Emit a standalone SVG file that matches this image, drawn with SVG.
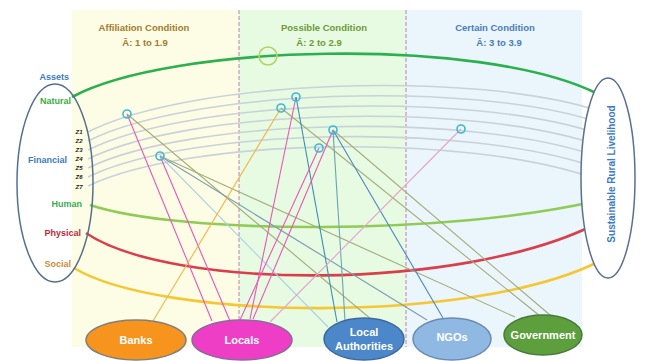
<svg xmlns="http://www.w3.org/2000/svg" width="646" height="361" viewBox="0 0 646 361">
<style>
text{font-family:"Liberation Sans",Arial,sans-serif;font-weight:bold}
.hdr{font-size:9.5px;text-anchor:middle}
.lbl{font-size:9px;text-anchor:end}
.z{font-size:6px;font-style:italic;fill:#222;text-anchor:middle}
.zarc{fill:none;stroke:#c9d2d9;stroke-width:1.6}
.div{stroke:#c46ac4;stroke-width:0.9;stroke-dasharray:4 2}
.ln{fill:none;stroke-width:1.1}
.pk{stroke:#e957b8}
.ol{stroke:#a3ad78}
.pt{fill:none;stroke:#3cb9d9;stroke-width:1.6}
.nt{fill:#fff;font-size:11px;text-anchor:middle}
</style>
<rect width="646" height="361" fill="#fff"/>
<g id="panels">
<rect x="72" y="10" width="167" height="337" fill="#fdfde5"/>
<rect x="239" y="10" width="167" height="337" fill="#e7fae2"/>
<rect x="406" y="10" width="176" height="337" fill="#ebf5fc"/>
<line class="div" x1="239" y1="10" x2="239" y2="347"/>
<line class="div" x1="406" y1="10" x2="406" y2="347"/>
</g>
<g id="headers">
<text class="hdr" x="144" y="31" fill="#a37c2e">Affiliation Condition</text>
<text class="hdr" x="145" y="46" fill="#a37c2e">Ā: 1 to 1.9</text>
<text class="hdr" x="324" y="31" fill="#6e9a3a">Possible Condition</text>
<text class="hdr" x="319" y="46" fill="#6e9a3a">Ā: 2 to 2.9</text>
<text class="hdr" x="495" y="31" fill="#4a7cc0">Certain Condition</text>
<text class="hdr" x="499" y="46" fill="#4a7cc0">Ā: 3 to 3.9</text>
</g>
<g id="arcs">
<path class="zarc" d="M88,132 C190,80 470,70 596,110"/>
<path class="zarc" d="M88,141 C190,89.5 470,80.5 596,121.5"/>
<path class="zarc" d="M88,150 C190,99 470,91 596,133"/>
<path class="zarc" d="M88,159 C190,108.5 470,101.5 596,144.5"/>
<path class="zarc" d="M88,168 C190,118 470,112 596,156"/>
<path class="zarc" d="M88,177 C190,127.5 470,122.5 596,167.5"/>
<path class="zarc" d="M88,186 C190,137 470,133 596,179"/>
<path d="M72,97 C170,44 480,36 596,93" fill="none" stroke="#2bb04e" stroke-width="2.6"/>
<circle cx="268" cy="56" r="9" fill="none" stroke="#b3d264" stroke-width="1.5"/>
<path d="M90,205 C180,235 450,235 596,201" fill="none" stroke="#8fcb55" stroke-width="2.6"/>
<path d="M86,233 C170,290 460,292 596,224" fill="none" stroke="#d93f4b" stroke-width="2.6"/>
<path d="M74,268 C160,320 470,325 598,262" fill="none" stroke="#f4c733" stroke-width="2.6"/>
</g>
<g id="assets">
<ellipse cx="55" cy="183" rx="38" ry="99" fill="none" stroke="#56708c" stroke-width="1.5"/>
<text class="lbl" x="69" y="80" fill="#3b7cc2">Assets</text>
<text class="lbl" x="71" y="104" fill="#3aab3f">Natural</text>
<text class="lbl" x="67" y="163" fill="#3b7cc2">Financial</text>
<text class="lbl" x="82" y="207" fill="#3aab55">Human</text>
<text class="lbl" x="81" y="236" fill="#c4283d">Physical</text>
<text class="lbl" x="71" y="267" fill="#d08a40">Social</text>
<text class="z" x="79" y="134">Z1</text>
<text class="z" x="79" y="143">Z2</text>
<text class="z" x="79" y="152">Z3</text>
<text class="z" x="79" y="161">Z4</text>
<text class="z" x="79" y="170">Z5</text>
<text class="z" x="79" y="179">Z6</text>
<text class="z" x="79" y="189">Z7</text>
</g>
<g id="srl">
<ellipse cx="608" cy="178" rx="27" ry="100" fill="#fff" stroke="#5a7090" stroke-width="1.5"/>
<text x="612" y="174" transform="rotate(-90 612 174)" font-size="10" fill="#3b7cc2" text-anchor="middle" dominant-baseline="middle">Sustainable Rural Livelihood</text>
</g>
<g id="connectors">
<line class="ln pk" x1="127" y1="114" x2="212" y2="321"/>
<line class="ln ol" x1="127" y1="114" x2="372" y2="320"/>
<line class="ln pk" x1="160" y1="156" x2="230" y2="321"/>
<line class="ln" stroke="#acd0e2" x1="160" y1="156" x2="328" y2="327"/>
<line class="ln" stroke="#7c9cb2" x1="160" y1="156" x2="427" y2="320"/>
<line class="ln ol" x1="160" y1="156" x2="515" y2="317"/>
<line class="ln" stroke="#f2b548" x1="281" y1="108" x2="153" y2="321"/>
<line class="ln ol" x1="281" y1="108" x2="540" y2="316"/>
<line class="ln pk" x1="296" y1="97" x2="250" y2="319"/>
<line class="ln" stroke="#3a8fb2" x1="296" y1="97" x2="337" y2="322"/>
<line class="ln pk" x1="333" y1="130" x2="253" y2="319"/>
<line class="ln" stroke="#6ea4b4" x1="333" y1="130" x2="345" y2="321"/>
<line class="ln" stroke="#4a88c0" x1="333" y1="130" x2="443" y2="318"/>
<line class="ln ol" x1="333" y1="130" x2="550" y2="315"/>
<line class="ln pk" x1="319" y1="148" x2="240" y2="320"/>
<line class="ln" stroke="#e8a3cc" x1="461" y1="129" x2="270" y2="322"/>
</g>
<g id="points">
<circle class="pt" cx="127" cy="114" r="4"/>
<circle class="pt" cx="160" cy="156" r="4"/>
<circle class="pt" cx="281" cy="108" r="4"/>
<circle class="pt" cx="296" cy="97" r="4"/>
<circle class="pt" cx="333" cy="130" r="4"/>
<circle class="pt" cx="319" cy="148" r="4"/>
<circle class="pt" cx="461" cy="129" r="4"/>
</g>
<g id="banks">
<ellipse cx="136" cy="340" rx="50" ry="20" fill="#f7941e" stroke="#7f7f7f" stroke-width="1.5"/>
<text class="nt" x="136" y="344">Banks</text>
</g>
<g id="locals">
<ellipse cx="242" cy="340" rx="50" ry="20" fill="#ef3ec6" stroke="#8a6a9a" stroke-width="1.5"/>
<text class="nt" x="242" y="344">Locals</text>
</g>
<g id="local-authorities">
<ellipse cx="364" cy="339" rx="40" ry="21" fill="#4b87c9" stroke="#3c6a9e" stroke-width="1.5"/>
<text class="nt" x="364" y="336" font-size="10">Local</text>
<text class="nt" x="364" y="350" font-size="10">Authorities</text>
</g>
<g id="ngos">
<ellipse cx="452" cy="339" rx="39" ry="21" fill="#8fb9e2" stroke="#6a8cb2" stroke-width="1.5"/>
<text class="nt" x="452" y="341" fill="#eef4fb">NGOs</text>
</g>
<g id="government">
<ellipse cx="543" cy="335" rx="39" ry="20" fill="#5c9f3c" stroke="#4a7a3a" stroke-width="1.5"/>
<text class="nt" x="543" y="339">Government</text>
</g>
</svg>
